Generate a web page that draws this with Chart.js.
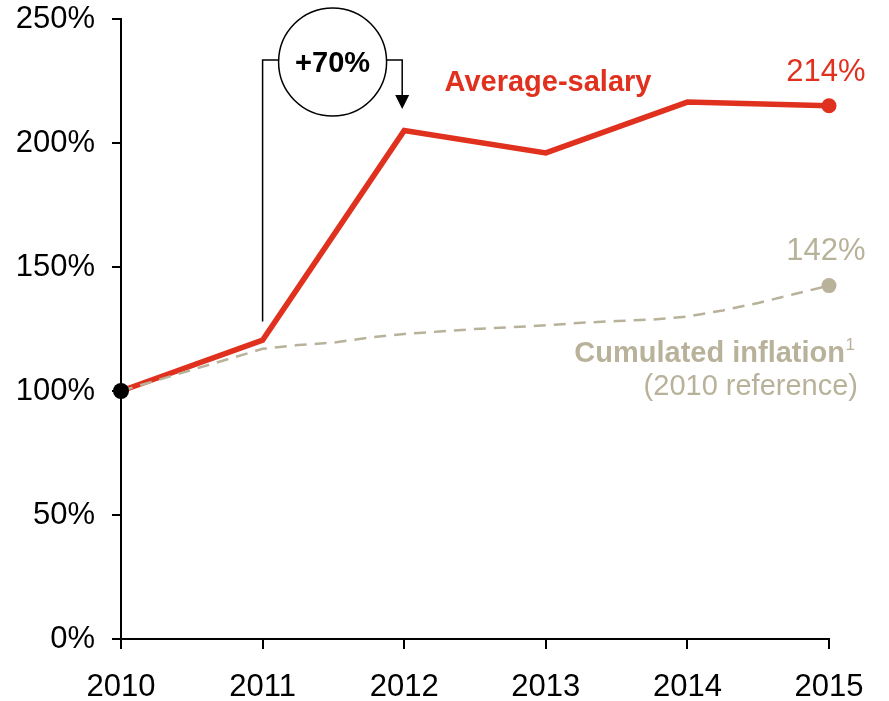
<!DOCTYPE html>
<html>
<head>
<meta charset="utf-8">
<script src="https://cdn.jsdelivr.net/npm/chart.js@4/dist/chart.umd.min.js"></script>
<style>
  html, body { margin: 0; padding: 0; background: #fff; }
  #chart { display: block; }
</style>
</head>
<body>
<canvas id="chart" width="889" height="701"></canvas>
<script>
// ---- data --------------------------------------------------------------
const years         = [2010, 2011, 2012, 2013, 2014, 2015];
const salary        = [100, 120.5, 205, 196, 216.5, 215];       // average salary, 2010 = 100%
const inflationX    = [2010, 2011, 2011.25, 2011.5, 2011.75, 2012, 2012.25, 2012.5, 2012.75,
                       2013, 2013.25, 2013.5, 2013.75, 2014, 2014.25, 2014.5, 2014.75, 2015];
const inflation     = [100, 117, 118.5, 119.5, 121.5, 123, 124, 125, 125.7,
                       126.5, 127.5, 128.2, 128.8, 130, 132.5, 135.5, 139, 142.5];
const yTicks        = [0, 50, 100, 150, 200, 250];

const RED  = '#E0301E';
const TAN  = '#B9B29B';
const FONT = "'Liberation Sans', Arial, sans-serif";

// ---- annotations (text, bracket, circle) --------------------------------
const annotations = {
  id: 'annotations',
  afterDatasetsDraw(chart) {
    const { ctx, scales: { x, y } } = chart;
    const x11 = x.getPixelForValue(2011);
    const x12 = x.getPixelForValue(2012);
    const yTop = 60;

    ctx.save();
    // bracket 2011 -> 2012
    ctx.strokeStyle = '#000';
    ctx.lineWidth = 1.5;
    ctx.beginPath();
    ctx.moveTo(x11, y.getPixelForValue(128));
    ctx.lineTo(x11, yTop);
    ctx.lineTo(x11 + 18, yTop);
    ctx.moveTo(x11 + 124, yTop);
    ctx.lineTo(x12 - 2, yTop);
    ctx.lineTo(x12 - 2, 96);
    ctx.stroke();
    ctx.fillStyle = '#000';
    ctx.beginPath();
    ctx.moveTo(x12 - 9, 95);
    ctx.lineTo(x12 + 5, 95);
    ctx.lineTo(x12 - 2, 109);
    ctx.closePath();
    ctx.fill();

    // circle with +70%
    const cx = x11 + 70, cy = 62;
    ctx.beginPath();
    ctx.arc(cx, cy, 54, 0, Math.PI * 2);
    ctx.fillStyle = '#fff';
    ctx.fill();
    ctx.stroke();
    ctx.fillStyle = '#000';
    ctx.font = `bold 29px ${FONT}`;
    ctx.textAlign = 'center';
    ctx.textBaseline = 'middle';
    ctx.fillText('+70%', cx, cy + 2);

    // series labels
    ctx.fillStyle = RED;
    ctx.font = `bold 29px ${FONT}`;
    ctx.fillText('Average-salary', 548, 83);
    ctx.font = `31px ${FONT}`;
    ctx.fillText('214%', x.getPixelForValue(2015) - 3, 72);

    ctx.fillStyle = TAN;
    ctx.fillText('142%', x.getPixelForValue(2015) - 3, 251);
    ctx.textAlign = 'right';
    ctx.font = `17px ${FONT}`;
    ctx.fillText('1', 855, 345);
    ctx.font = `bold 29px ${FONT}`;
    ctx.fillText('Cumulated inflation', 845, 354);
    ctx.font = `29px ${FONT}`;
    ctx.fillText('(2010 reference)', 858, 387);
    ctx.restore();
  }
};

// ---- chart -------------------------------------------------------------
new Chart(document.getElementById('chart').getContext('2d'), {
  type: 'line',
  data: {
    datasets: [
      {
        label: 'start',
        data: [{ x: years[0], y: salary[0] }],
        pointRadius: 8,
        pointBackgroundColor: '#000',
        pointBorderWidth: 0,
        showLine: false,
        clip: false,
        order: 0,
      },
      {
        label: 'Cumulated inflation',
        data: inflationX.map((v, i) => ({ x: v, y: inflation[i] })),
        borderColor: TAN,
        borderWidth: 2.5,
        borderDash: [12, 8],
        pointRadius: inflationX.map((v, i) => i === inflationX.length - 1 ? 7.5 : 0),
        pointBackgroundColor: TAN,
        pointBorderWidth: 0,
        tension: 0,
        clip: false,
        order: 1,
      },
      {
        label: 'Average-salary',
        data: years.map((v, i) => ({ x: v, y: salary[i] })),
        borderColor: RED,
        borderWidth: 5.5,
        borderJoinStyle: 'miter',
        pointRadius: years.map((v, i) => i === years.length - 1 ? 7.5 : 0),
        pointBackgroundColor: RED,
        pointBorderWidth: 0,
        tension: 0,
        clip: false,
        order: 2,
      },
    ],
  },
  options: {
    responsive: false,
    animation: false,
    events: [],
    layout: { padding: { top: 19, right: 60, left: 0, bottom: 0 } },
    plugins: { legend: { display: false }, tooltip: { enabled: false } },
    scales: {
      x: {
        type: 'linear',
        min: 2010,
        max: 2015,
        afterBuildTicks: (s) => { s.ticks = years.map(v => ({ value: v })); },
        afterFit: (s) => { s.height = 62; s.paddingLeft = 0; s.paddingRight = 0; },
        border: { color: '#000', width: 2 },
        grid: { drawOnChartArea: false, drawTicks: true, tickLength: 10, color: '#000', lineWidth: 2 },
        ticks: {
          color: '#000',
          padding: 20,
          maxRotation: 0,
          font: { family: FONT, size: 31 },
          callback: (v) => String(v),
        },
      },
      y: {
        min: 0,
        max: 250,
        afterBuildTicks: (s) => { s.ticks = yTicks.map(v => ({ value: v })); },
        afterFit: (s) => { s.width = 121; s.paddingTop = 0; s.paddingBottom = 0; },
        border: { color: '#000', width: 2 },
        grid: { drawOnChartArea: false, drawTicks: true, tickLength: 9, color: '#000', lineWidth: 2 },
        ticks: {
          color: '#000',
          padding: 17,
          font: { family: FONT, size: 31 },
          callback: (v) => v + '%',
        },
      },
    },
  },
  plugins: [annotations],
});
</script>
</body>
</html>
